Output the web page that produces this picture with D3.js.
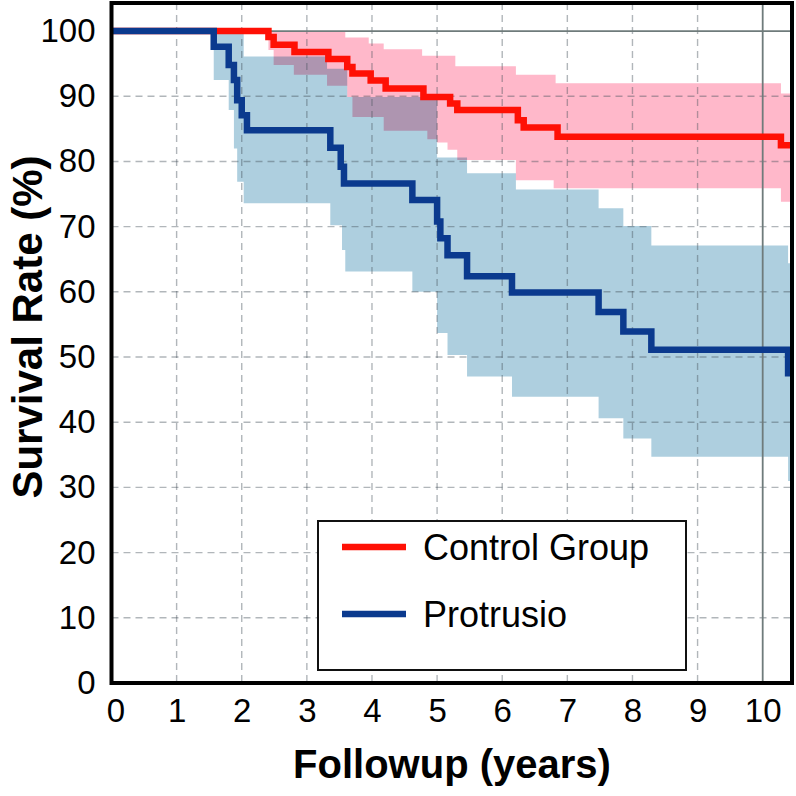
<!DOCTYPE html>
<html>
<head>
<meta charset="utf-8">
<script src="https://cdn.jsdelivr.net/npm/d3@7"></script>
<style>
  html, body { margin: 0; padding: 0; background: #fff; }
  svg { display: block; }
  text { font-family: "Liberation Sans", Arial, sans-serif; fill: #000; }
</style>
</head>
<body>
<svg id="chart" width="796" height="796"></svg>
<script>
// ---------- data (time in years, survival in %) ----------
const seriesNames = ["Control Group", "Protrusio"];
const seriesColors = ["#ff1005", "#0b3a8e"];
const bandColors = ["#ffb8ca", "#aecfdf"];

const controlSurvival = [[0,100],[2.41,99.1],[2.49,97.9],[2.81,96.8],[3.33,95.7],[3.62,94.5],[3.70,93.5],[3.98,92.4],[4.21,91.2],[4.79,89.9],[5.20,88.9],[5.31,87.9],[6.24,86.3],[6.33,85.2],[6.85,83.8],[10.28,82.5]];
const controlUpper = [[0,100],[3.59,99.0],[3.95,98.1],[4.18,97.2],[4.77,96.2],[5.28,94.6],[6.21,93.3],[6.82,92.0],[10.28,90.4]];
const controlLower = [[0,100],[2.41,97.1],[2.49,94.8],[2.80,93.3],[3.31,91.6],[3.62,89.9],[3.70,86.8],[4.18,84.7],[4.85,83.4],[5.0,82.9],[5.16,81.8],[5.31,80.2],[6.21,77.1],[6.79,75.9],[10.28,73.8]];

const protrusioSurvival = [[0,100],[1.57,97.6],[1.80,94.8],[1.88,92.5],[1.93,89.4],[2.0,87.1],[2.08,84.8],[3.36,82.1],[3.52,79.2],[3.57,76.6],[4.62,74.1],[5.0,70.8],[5.05,68.2],[5.16,65.6],[5.46,62.4],[6.15,59.9],[7.48,56.9],[7.86,53.9],[8.29,51.1],[10.39,47.5]];
const protrusioUpper = [[0,100],[2.03,96.1],[3.31,94.2],[3.62,89.9],[5.0,80.6],[5.46,78.2],[6.21,75.7],[7.48,72.8],[7.86,70.1],[8.29,67.1],[10.39,64.4]];
const protrusioLower = [[0,100],[1.57,92.5],[1.80,87.9],[1.88,82.0],[1.93,76.9],[2.03,73.6],[3.36,70.2],[3.54,66.4],[3.59,63.1],[4.62,60.0],[5.0,53.7],[5.16,50.3],[5.46,47.0],[6.15,43.9],[7.48,40.6],[7.86,37.5],[8.29,34.7],[10.39,31.0]];

const xTicks = [0,1,2,3,4,5,6,7,8,9,10];
const yTicks = [0,10,20,30,40,50,60,70,80,90,100];
const xDomain = [0, 10.45];
const yDomain = [0, 104.3];
const xTitle = "Followup (years)";
const yTitle = "Survival Rate (%)";

// ---------- layout ----------
const svg = d3.select("#chart");
const L = 111.5, R = 792, T = 3, B = 683;
const x = d3.scaleLinear().domain(xDomain).range([L, R]);
const y = d3.scaleLinear().domain(yDomain).range([B, T]);

svg.append("defs").append("clipPath").attr("id", "plotclip")
  .append("rect").attr("x", L).attr("y", T).attr("width", R - L).attr("height", B - T);

const plot = svg.append("g").attr("clip-path", "url(#plotclip)");

function stepVal(arr, t) {
  let v = arr[0][1];
  for (const [tt, vv] of arr) if (tt <= t) v = vv;
  return v;
}
function bandData(upper, lower) {
  const ts = Array.from(new Set(upper.map(d => d[0]).concat(lower.map(d => d[0])))).sort((a, b) => a - b);
  ts.push(xDomain[1]);
  return ts.map(t => ({ t, hi: stepVal(upper, t), lo: stepVal(lower, t) }));
}
const area = d3.area().x(d => x(d.t)).y0(d => y(d.lo)).y1(d => y(d.hi)).curve(d3.curveStepAfter);

plot.append("path").datum(bandData(controlUpper, controlLower))
  .attr("d", area).attr("fill", bandColors[0]);
plot.append("path").datum(bandData(protrusioUpper, protrusioLower))
  .attr("d", area).attr("fill", bandColors[1]).style("mix-blend-mode", "multiply");

// ---------- grid ----------
const grid = plot.append("g");
grid.selectAll("line.gx").data(xTicks.filter(t => t > 0 && t < 10)).join("line")
  .attr("x1", d => x(d)).attr("x2", d => x(d)).attr("y1", T).attr("y2", B)
  .attr("stroke", "rgba(70,80,90,0.42)").attr("stroke-width", 1.4).attr("stroke-dasharray", "7,5");
grid.selectAll("line.gy").data(yTicks.filter(t => t > 0 && t < 100)).join("line")
  .attr("x1", L).attr("x2", R).attr("y1", d => y(d)).attr("y2", d => y(d))
  .attr("stroke", "rgba(70,80,90,0.42)").attr("stroke-width", 1.4).attr("stroke-dasharray", "7,5");
// solid reference lines at 100% and 10 years
grid.append("line").attr("x1", L).attr("x2", R).attr("y1", y(100)).attr("y2", y(100))
  .attr("stroke", "#6f7b7b").attr("stroke-width", 1.8);
grid.append("line").attr("x1", x(10)).attr("x2", x(10)).attr("y1", T).attr("y2", B)
  .attr("stroke", "#6f7b7b").attr("stroke-width", 1.8);

// ---------- survival curves ----------
const line = d3.line().x(d => x(d[0])).y(d => y(d[1])).curve(d3.curveStepAfter);
[controlSurvival, protrusioSurvival].forEach((s, i) => {
  const pts = s.concat([[xDomain[1], s[s.length - 1][1]]]);
  plot.append("path").datum(pts).attr("d", line)
    .attr("fill", "none").attr("stroke", seriesColors[i]).attr("stroke-width", 6.5)
    .attr("stroke-linejoin", "miter");
});

// ---------- legend ----------
const lg = svg.append("g");
lg.append("rect").attr("x", 318).attr("y", 521).attr("width", 368).attr("height", 149)
  .attr("fill", "#fff").attr("stroke", "#111").attr("stroke-width", 2);
seriesNames.forEach((name, i) => {
  const ly = 547 + i * 67;
  lg.append("line").attr("x1", 342).attr("x2", 406).attr("y1", ly).attr("y2", ly)
    .attr("stroke", seriesColors[i]).attr("stroke-width", 6.5);
  lg.append("text").attr("x", 423).attr("y", ly + 13).attr("font-size", 36).text(name);
});

// ---------- frame ----------
svg.append("rect").attr("x", L).attr("y", T).attr("width", R - L).attr("height", B - T)
  .attr("fill", "none").attr("stroke", "#000").attr("stroke-width", 4);

// ---------- axes labels ----------
const xAxis = d3.axisBottom(x).tickValues(xTicks).tickSize(0).tickPadding(16).tickFormat(d3.format("d"));
const gx = svg.append("g").attr("transform", `translate(0,${B})`).call(xAxis);
gx.select(".domain").remove();
gx.selectAll("text").attr("font-size", 33).attr("fill", "#000")
  .attr("dx", d => d === 0 ? 4 : 0)
  .style("font-family", '"Liberation Sans", Arial, sans-serif');

const yAxis = d3.axisLeft(y).tickValues(yTicks).tickSize(0).tickPadding(16).tickFormat(d3.format("d"));
const gy = svg.append("g").attr("transform", `translate(${L},0)`).call(yAxis);
gy.select(".domain").remove();
gy.selectAll("text").attr("font-size", 33).attr("fill", "#000")
  .style("font-family", '"Liberation Sans", Arial, sans-serif');

svg.append("text").attr("x", 452).attr("y", 778).attr("text-anchor", "middle")
  .attr("font-size", 40).attr("font-weight", "bold").text(xTitle);
svg.append("text").attr("transform", "translate(42,327) rotate(-90)").attr("text-anchor", "middle")
  .attr("font-size", 42).attr("font-weight", "bold").text(yTitle);
</script>
</body>
</html>
